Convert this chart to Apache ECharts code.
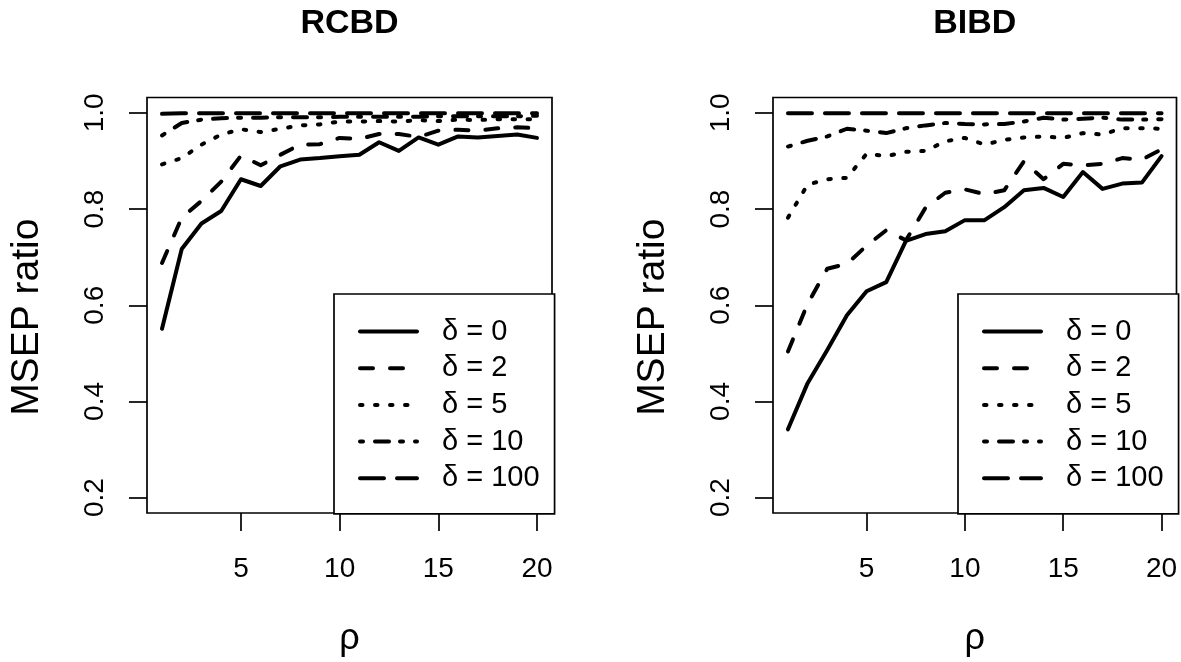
<!DOCTYPE html>
<html>
<head>
<meta charset="utf-8">
<script src="https://cdn.jsdelivr.net/npm/echarts@6/dist/echarts.min.js"></script>
<style>
html,body{margin:0;padding:0;background:#fff;}
#chart{width:1181px;height:662px;}
</style>
</head>
<body>
<div id="chart"></div>
<script>
// ---- data ----
const rho = [1,2,3,4,5,6,7,8,9,10,11,12,13,14,15,16,17,18,19,20];
const deltaNames = ['δ = 0','δ = 2','δ = 5','δ = 10','δ = 100'];
const panelTitles = ['RCBD','BIBD'];
const yTicks = [0.2,0.4,0.6,0.8,1.0];
const xTicks = [5,10,15,20];

// RCBD
const rcbd_d0   = [0.551,0.717,0.770,0.796,0.862,0.848,0.889,0.903,0.906,0.910,0.913,0.939,0.921,0.949,0.934,0.951,0.949,0.952,0.955,0.948];
const rcbd_d2   = [0.688,0.782,0.817,0.857,0.911,0.891,0.913,0.934,0.935,0.948,0.946,0.956,0.956,0.950,0.963,0.965,0.963,0.968,0.970,0.968];
const rcbd_d5   = [0.893,0.906,0.934,0.955,0.966,0.960,0.967,0.974,0.976,0.982,0.982,0.983,0.982,0.985,0.983,0.986,0.985,0.987,0.987,0.987];
const rcbd_d10  = [0.953,0.979,0.986,0.989,0.990,0.990,0.991,0.991,0.991,0.992,0.992,0.992,0.992,0.992,0.993,0.993,0.993,0.993,0.993,0.994];
const rcbd_d100 = [0.998,0.999,0.999,0.999,0.999,0.999,0.999,0.999,0.999,0.999,0.999,0.999,0.999,0.999,0.999,0.999,0.999,0.999,0.999,0.999];

// BIBD
const bibd_d0   = [0.342,0.438,0.507,0.579,0.629,0.648,0.734,0.748,0.754,0.777,0.777,0.804,0.839,0.844,0.825,0.877,0.842,0.853,0.855,0.910];
const bibd_d2   = [0.504,0.603,0.676,0.686,0.724,0.756,0.735,0.803,0.834,0.841,0.831,0.839,0.899,0.862,0.894,0.891,0.894,0.906,0.903,0.924];
const bibd_d5   = [0.782,0.851,0.862,0.865,0.915,0.910,0.919,0.921,0.941,0.948,0.934,0.944,0.949,0.951,0.948,0.958,0.955,0.968,0.968,0.967];
const bibd_d10  = [0.930,0.942,0.951,0.967,0.963,0.958,0.968,0.974,0.979,0.977,0.976,0.977,0.982,0.990,0.986,0.988,0.990,0.986,0.986,0.987];
const bibd_d100 = [0.999,0.999,0.999,0.999,0.999,0.999,0.999,0.999,0.999,0.999,0.999,0.999,0.999,0.999,0.999,0.999,0.999,0.999,0.999,0.999];

const panels = [
  [rcbd_d0, rcbd_d2, rcbd_d5, rcbd_d10, rcbd_d100],
  [bibd_d0, bibd_d2, bibd_d5, bibd_d10, bibd_d100]
];

// ---- styles ----
const FONT = '"Liberation Sans", Arial, Helvetica, sans-serif';
const LW = 4;
const dashes = ['solid', [13,17], [2.5,12.5], [3,12,14,11], [24,13]];
const gridBoxes = [
  {left:147, top:97.5, width:405, height:417.5},
  {left:773, top:97.5, width:403.5, height:417.5}
];
const legendPos = [{left:334, top:294},{left:958, top:294}];

const chart = echarts.init(document.getElementById('chart'), null, {renderer:'canvas'});

const grids = [], xAxes = [], yAxes = [], series = [], titles = [], legends = [];
gridBoxes.forEach((g, p) => {
  grids.push(Object.assign({show:true, borderColor:'#000', borderWidth:1.7, backgroundColor:'transparent'}, g));
  xAxes.push({
    type:'value', gridIndex:p, min:0.24, max:20.76,
    name:'ρ', nameLocation:'middle', nameGap:108,
    nameTextStyle:{fontFamily:FONT, fontSize:36, color:'#000'},
    axisLine:{show:false},
    axisTick:{show:true, inside:false, length:18, customValues:xTicks, lineStyle:{color:'#000', width:1.7}},
    axisLabel:{show:true, margin:42, customValues:xTicks, fontFamily:FONT, fontSize:28, color:'#000',
      formatter:(v)=>String(Math.round(v))},
    splitLine:{show:false}
  });
  yAxes.push({
    type:'value', gridIndex:p, min:0.168, max:1.032,
    name:'MSEP ratio', nameLocation:'middle', nameRotate:90, nameGap:100,
    nameTextStyle:{fontFamily:FONT, fontSize:39, color:'#000', padding:[0,24,0,0]},
    axisLine:{show:false},
    axisTick:{show:true, inside:false, length:18, customValues:yTicks, lineStyle:{color:'#000', width:1.7}},
    axisLabel:{show:true, rotate:90, margin:38, customValues:yTicks, fontFamily:FONT, fontSize:28, color:'#000',
      formatter:(v)=>v.toFixed(1)},
    splitLine:{show:false}
  });
  titles.push({
    text: panelTitles[p], left: g.left + g.width/2, top:7, textAlign:'center', padding:0,
    textStyle:{fontFamily:FONT, fontSize:34, fontWeight:'bold', color:'#000'}
  });
  legends.push({
    show:true, type:'plain',
    orient:'vertical', left:legendPos[p].left, top:legendPos[p].top,
    padding:[22.5,15,20.5,24], itemGap:6.7, itemWidth:57, itemHeight:14,
    borderColor:'#000', borderWidth:1.7, backgroundColor:'#fff',
    selectedMode:false,
    itemStyle:{color:'rgba(0,0,0,0)', borderColor:'rgba(0,0,0,0)', borderWidth:0},
    lineStyle:{width:LW, cap:'round', color:'#000'},
    textStyle:{fontFamily:FONT, fontSize:29, color:'#000', lineHeight:30, padding:[0,0,0,20]},
    data: deltaNames.slice()
  });
  panels[p].forEach((vals, i) => {
    series.push({
      type:'line', name:deltaNames[i], xAxisIndex:p, yAxisIndex:p,
      data: rho.map((x,k)=>[x, vals[k]]),
      symbol:'none', showSymbol:false, smooth:false, z: 2 + (4-i),
      color:'#000',
      lineStyle:{color:'#000', width:LW, type:dashes[i], cap:'round', join:'round'},
      emphasis:{disabled:true}
    });
  });
});

chart.setOption({
  animation:false,
  backgroundColor:'#fff',
  title: titles,
  grid: grids,
  xAxis: xAxes,
  yAxis: yAxes,
  legend: legends,
  series: series
});
</script>
</body>
</html>
